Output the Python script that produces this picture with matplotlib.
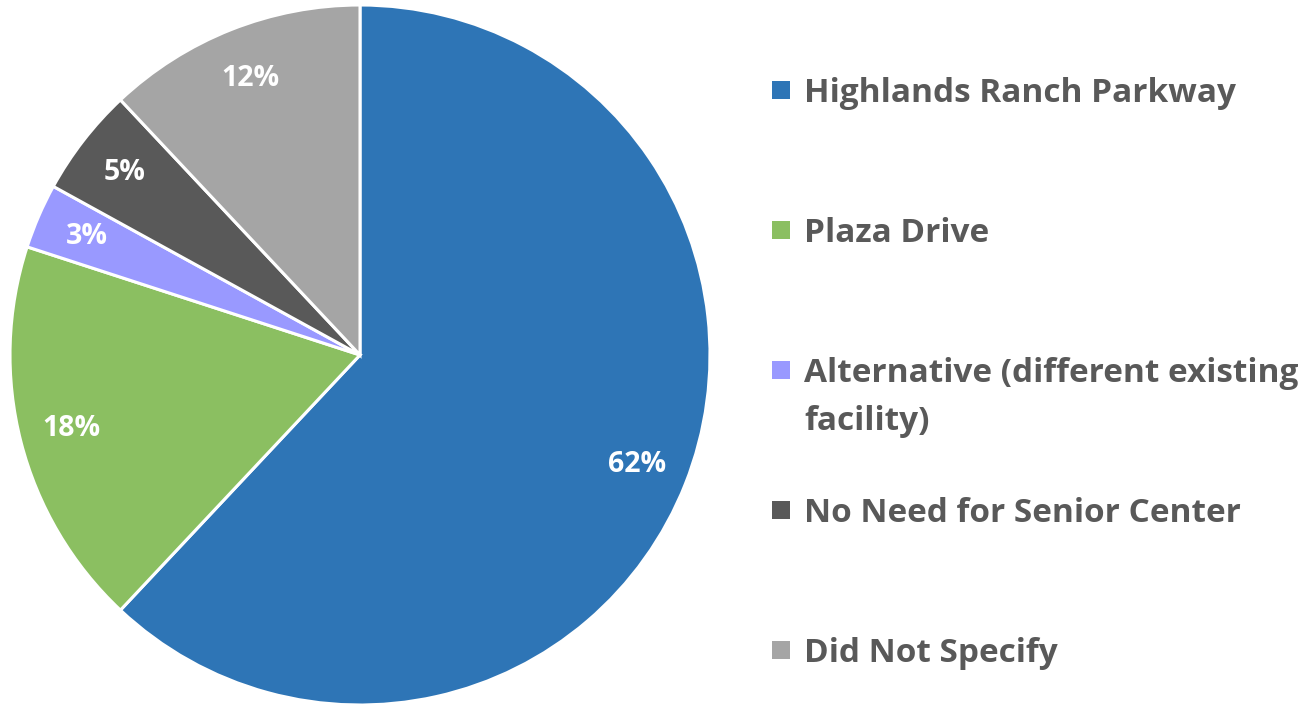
import matplotlib
matplotlib.use("Agg")
import matplotlib.pyplot as plt
from matplotlib.patches import Rectangle

categories = ["Highlands Ranch Parkway", "Plaza Drive", "Alternative (different existing\nfacility)",
              "No Need for Senior Center", "Did Not Specify"]
values = [62, 18, 3, 5, 12]
colors = ["#2E75B6", "#8BBF61", "#9999FF", "#595959", "#A5A5A5"]

plt.rcParams['font.family'] = ['Open Sans', 'DejaVu Sans']

W, H = 1304, 704
fig = plt.figure(figsize=(W / 100, H / 100), dpi=100)
cx, cy, r = 360, 355, 350
ax = fig.add_axes([(cx - r) / W, (H - cy - r) / H, 2 * r / W, 2 * r / H])
wedges, texts, autotexts = ax.pie(
    values, colors=colors, startangle=90, counterclock=False,
    autopct=lambda p: f"{p:.0f}%", pctdistance=0.85,
    wedgeprops=dict(edgecolor="white", linewidth=2.2),
    textprops=dict(color="white", fontsize=20.5, fontweight="bold"))
ax.set_xlim(-1, 1)
ax.set_ylim(-1, 1)
ax.set_aspect("auto")

# legend
y0, step, line_gap = 90, 140, 48
for i, (lab, col) in enumerate(zip(categories, colors)):
    yc = y0 + i * step
    fig.patches.append(Rectangle((772 / W, (H - yc - 9) / H), 18 / W, 18 / H,
                                 transform=fig.transFigure, facecolor=col, edgecolor="none"))
    for k, line in enumerate(lab.split("\n")):
        fig.text(804 / W, (H - yc - k * line_gap) / H, line, ha="left", va="center_baseline",
                 fontsize=24, fontweight="bold", color="#595959")

fig.savefig("out.png", dpi=100)
